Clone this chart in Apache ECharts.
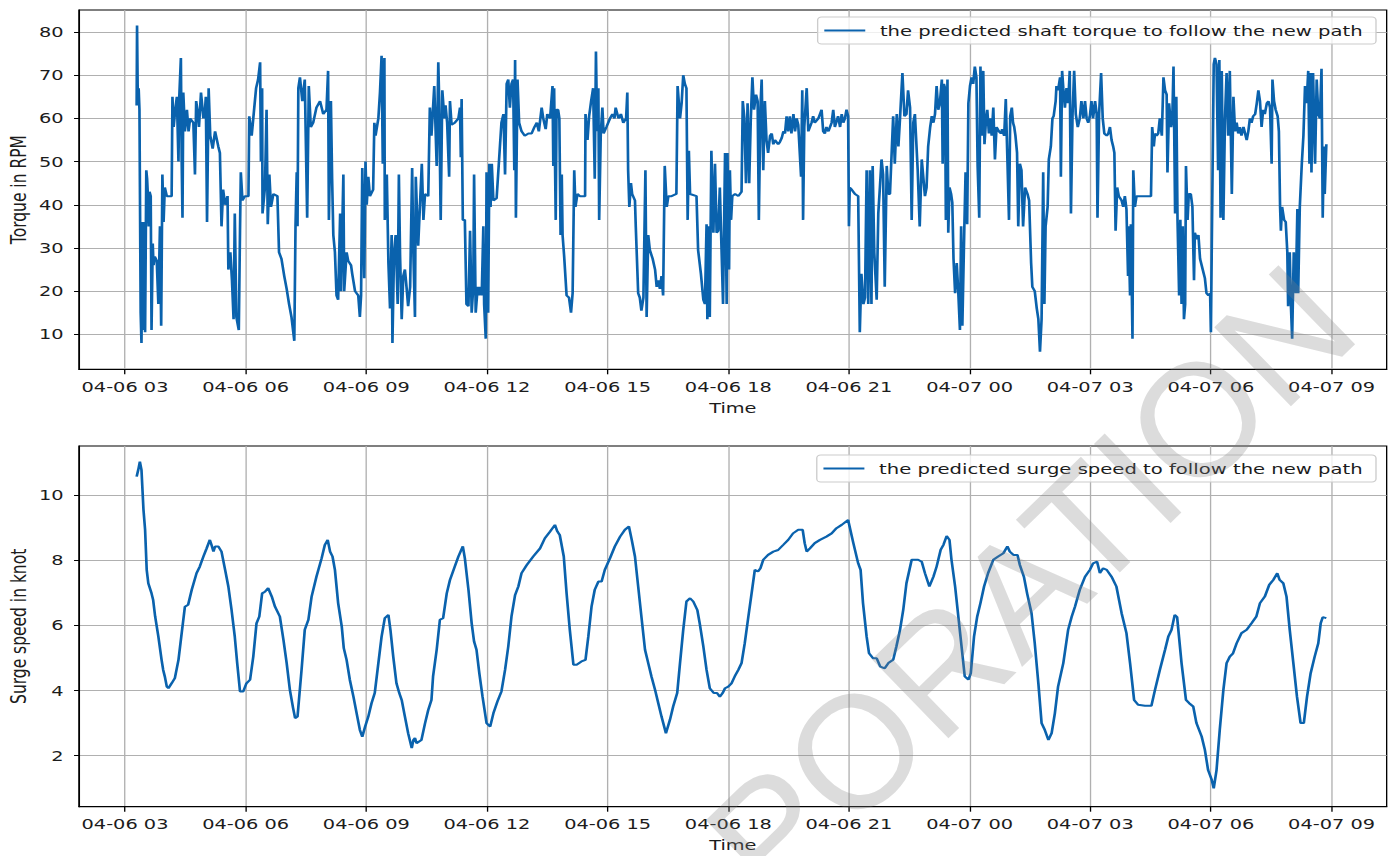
<!DOCTYPE html>
<html>
<head>
<meta charset="utf-8">
<script src="https://cdn.jsdelivr.net/npm/echarts@6/dist/echarts.min.js"></script>
<style>
  html, body { margin: 0; padding: 0; background: #ffffff; overflow: hidden; }
  #wrap { position: relative; width: 1390px; height: 856px; overflow: hidden; background: #ffffff; }
  /* the figure is laid out narrower and widened horizontally, like the original export */
  #chart { position: absolute; left: 0; top: 0; width: 1042px; height: 856px; transform-origin: 0 0; }
  #mark { position: absolute; left: 0; top: 0; width: 1390px; height: 856px; pointer-events: none; }
</style>
</head>
<body>
<div id="wrap"><div id="chart"></div><div id="mark"></div></div>
<script>
// ---- data: time in hours after 04-06 00:00, value ----
const tickHours = [3, 6, 9, 12, 15, 18, 21, 24, 27, 30, 33];
const torqueTicks = [10, 20, 30, 40, 50, 60, 70, 80];
const surgeTicks = [2, 4, 6, 8, 10];

const torque = [
  [3.29,63],[3.30,81.5],[3.32,63],[3.34,67],[3.36,62],[3.39,15],[3.41,8],[3.44,36],[3.46,11],[3.48,36],[3.50,10.5],[3.53,48],[3.55,46],[3.57,42],[3.59,35],[3.61,43],[3.64,42],[3.66,11],[3.69,31],[3.71,26],[3.74,28],[3.79,27],[3.83,17],[3.87,35],[3.90,12],[3.93,47],[3.96,36],[3.99,44],[4.04,42],[4.16,42],[4.18,65],[4.21,58],[4.25,62],[4.29,65],[4.33,50],[4.35,65],[4.39,74],[4.41,50],[4.43,37],[4.45,66],[4.49,57],[4.54,62],[4.58,57],[4.62,60],[4.70,59],[4.74,47],[4.77,64],[4.80,62],[4.84,58],[4.89,66],[4.95,60],[4.99,62],[5.01,65],[5.04,36],[5.08,67],[5.12,56],[5.18,53],[5.24,57],[5.32,53.5],[5.36,52],[5.40,35],[5.44,43.5],[5.49,40],[5.55,42],[5.57,25],[5.62,29],[5.66,22.5],[5.70,13.5],[5.73,38],[5.77,14],[5.83,11],[5.86,34],[5.88,47.5],[5.92,41],[5.98,42],[6.07,42],[6.09,60.5],[6.15,56],[6.19,60],[6.26,67],[6.31,69],[6.36,73],[6.38,50],[6.41,67],[6.42,38],[6.48,44],[6.52,62],[6.55,35.5],[6.59,47],[6.63,39.5],[6.69,42.5],[6.79,42],[6.83,29],[6.89,27.5],[6.96,23.5],[7.02,20.5],[7.08,17],[7.14,14],[7.21,8.5],[7.24,35],[7.27,47.5],[7.29,35],[7.31,67],[7.35,69.5],[7.41,64],[7.47,69],[7.53,37],[7.57,67.5],[7.62,58],[7.68,59],[7.76,62.5],[7.85,64],[7.93,61],[8.01,62],[8.05,71],[8.07,36.5],
  [8.12,64],[8.15,46],[8.18,33],[8.22,29],[8.26,19],[8.30,18],[8.35,38],[8.37,20],[8.43,47],[8.45,20],[8.51,29],[8.55,27],[8.62,26],[8.65,24],[8.72,20],[8.80,19],[8.84,14],[8.87,19],[8.90,48.5],[8.95,23],[8.98,50],[9.01,40],[9.05,46.5],[9.09,42],[9.17,43.5],[9.20,59],[9.23,56],[9.30,60],[9.34,66],[9.38,74.5],[9.41,49.5],[9.45,74],[9.46,36.5],[9.51,47],[9.55,26.5],[9.59,16],[9.63,33],[9.65,8],[9.69,29],[9.73,33],[9.78,17],[9.81,47],[9.84,28],[9.88,13.5],[9.92,23.5],[9.96,25],[10.00,21],[10.04,16.5],[10.09,21],[10.14,48.5],[10.17,29],[10.21,14],[10.23,46.5],[10.29,30.5],[10.38,49.5],[10.42,36.5],[10.46,42.5],[10.54,42],[10.58,62.5],[10.62,56],[10.69,67.5],[10.75,49],[10.79,73],[10.81,65],[10.85,36.5],[10.89,66.5],[10.94,60],[10.97,63],[11.01,59],[11.06,46.5],[11.08,64],[11.12,58.5],[11.20,59],[11.29,60],[11.33,62.5],[11.35,51],[11.37,64.5],[11.40,36.5],[11.45,36.5],[11.49,17],[11.54,16.5],[11.58,34],[11.62,15],[11.66,21],[11.68,47],[11.72,15],[11.77,21],[11.80,19],[11.83,21],[11.87,19],[11.91,35],[11.93,17],[11.97,9],[11.99,47.5],[12.03,15],[12.06,49.5],[12.09,39.5],[12.12,49.5],[12.16,41],[12.24,41.5],[12.36,59],[12.41,61],[12.45,47],[12.49,68],[12.53,69],[12.57,62.5],[12.61,68],[12.65,69],[12.68,48],[12.70,73.5],[12.72,37],[12.76,69],[12.80,59],[12.86,57],[12.94,56],[13.03,56.5],
  [13.11,56.5],[13.18,58],[13.24,59],[13.29,57],[13.36,62.5],[13.40,60],[13.46,57.5],[13.50,61],[13.57,60],[13.63,67.5],[13.65,49],[13.67,67],[13.71,36.5],[13.73,62],[13.77,62],[13.80,60],[13.83,33],[13.86,47],[13.88,33],[13.92,28],[13.98,19],[14.04,18.5],[14.09,15],[14.13,19.5],[14.17,48],[14.20,39.5],[14.25,42.5],[14.31,42],[14.44,42],[14.45,61],[14.50,55],[14.54,60.5],[14.59,64],[14.64,67],[14.68,46],[14.71,75.5],[14.74,57],[14.77,67],[14.79,36.5],[14.83,56.5],[14.87,62.5],[14.90,56.5],[14.97,58],[15.06,60],[15.12,61],[15.17,60],[15.20,62.5],[15.27,60],[15.33,61],[15.39,59],[15.46,60],[15.49,66],[15.51,48],[15.54,39.5],[15.58,45],[15.61,42.5],[15.68,41],[15.70,35],[15.76,19.5],[15.80,18.5],[15.84,15.5],[15.89,18.5],[15.94,48],[15.97,14],[16.01,33],[16.05,29.5],[16.12,27.5],[16.18,25],[16.22,21],[16.26,22.5],[16.30,20.5],[16.34,23.5],[16.38,19],[16.42,49],[16.47,39.5],[16.51,42],[16.59,42],[16.71,42.5],[16.74,67.5],[16.80,60],[16.84,63.5],[16.88,70],[16.92,68],[16.96,67],[16.99,36.5],[17.02,52.5],[17.05,42.5],[17.21,42],[17.25,29.5],[17.32,24],[17.38,18],[17.42,17],[17.46,35.5],[17.48,13.5],[17.50,35],[17.54,14],[17.58,52.5],[17.63,33.5],[17.67,49.5],[17.71,33.5],[17.75,34],[17.79,44],[17.87,17],[17.92,52],[17.96,17],[17.98,52],[18.02,25],[18.04,48],[18.07,36.5],[18.10,42],[18.17,42.5],[18.25,42],[18.33,43],
  [18.36,64],[18.40,60],[18.44,45],[18.48,63.5],[18.52,45],[18.56,60],[18.60,69.5],[18.64,62],[18.69,65.5],[18.73,64],[18.76,36.5],[18.80,62.5],[18.83,69],[18.87,48],[18.91,64],[18.95,55],[18.99,52],[19.04,56],[19.08,56.5],[19.12,54],[19.16,55],[19.24,54],[19.28,54.5],[19.33,55.5],[19.37,57],[19.41,56.5],[19.45,60.5],[19.49,57],[19.53,60.5],[19.57,56.5],[19.62,61],[19.66,57],[19.70,60],[19.74,58.5],[19.81,46.5],[19.84,66.5],[19.86,36.5],[19.89,58],[19.95,67],[19.99,57],[20.07,59],[20.11,60.5],[20.15,59],[20.24,60],[20.32,62],[20.36,57],[20.40,56.5],[20.44,58],[20.49,57],[20.57,59],[20.61,62],[20.65,58],[20.73,60.5],[20.78,58],[20.82,61],[20.86,59],[20.90,60],[20.94,62],[20.98,60.5],[21.00,35],[21.02,44],[21.07,43.5],[21.15,42.5],[21.23,42],[21.27,10.5],[21.31,24],[21.36,17],[21.40,18.5],[21.44,48],[21.48,17],[21.52,48],[21.56,17],[21.59,49],[21.63,29],[21.69,18],[21.73,38],[21.77,44],[21.81,50.5],[21.85,47],[21.89,21],[21.94,49],[21.98,42.5],[22.02,42.5],[22.10,60.5],[22.14,49.5],[22.19,61],[22.23,53.5],[22.27,60],[22.33,70.5],[22.38,60.5],[22.43,61],[22.47,66.5],[22.52,62.5],[22.56,36.5],[22.60,59],[22.64,61],[22.71,48],[22.76,35],[22.81,50.5],[22.89,42],[22.93,44],[22.97,53.5],
  [23.02,58],[23.06,60.5],[23.10,59],[23.14,61],[23.18,67.5],[23.22,62],[23.26,63.5],[23.31,69],[23.33,49.5],[23.36,68],[23.39,67],[23.41,36.5],[23.45,69],[23.47,33.5],[23.50,44],[23.54,42.5],[23.57,40.5],[23.60,27.5],[23.64,19.5],[23.68,26.5],[23.72,19.5],[23.76,11],[23.79,35],[23.82,12],[23.87,35],[23.90,47.5],[23.94,35.5],[23.97,63.5],[24.01,67.5],[24.05,69.5],[24.09,68],[24.13,72],[24.17,69.5],[24.20,49],[24.24,37],[24.27,72],[24.30,56],[24.34,71],[24.37,54],[24.41,60],[24.44,62],[24.48,56.5],[24.51,60],[24.55,56],[24.59,62.5],[24.63,50.5],[24.67,58],[24.73,57],[24.78,56.5],[24.81,57.5],[24.86,56],[24.90,64.5],[24.93,54],[24.98,36.5],[25.01,60.5],[25.05,62.5],[25.08,59],[25.11,58],[25.14,56],[25.18,52],[25.21,35],[25.25,49.5],[25.29,48],[25.33,35],[25.38,44],[25.44,42.5],[25.48,41],[25.53,26.5],[25.56,21],[25.62,20],[25.67,16],[25.71,13.5],[25.75,6],[25.79,13.5],[25.83,47.5],[25.86,17],[25.89,35],[25.94,39.5],[25.97,50.5],[26.02,53.5],[26.06,60],[26.09,60.5],[26.14,64],[26.16,67.5],[26.20,66.5],[26.25,69.5],[26.27,46.5],[26.30,71],[26.33,67],[26.37,62.5],[26.41,67],[26.45,63.5],[26.49,71],[26.52,38],[26.56,61],[26.60,71],[26.64,61],[26.69,58],[26.74,60],[26.78,64],[26.83,60],[26.87,64],[26.91,60],[26.95,59],[26.99,60.5],[27.03,64],[27.07,60],[27.12,64],[27.16,61],[27.18,37],[27.22,61],[27.27,70.5],[27.31,60],[27.35,56.5],[27.41,56],[27.45,56.5],[27.49,58],[27.53,55],[27.57,53.5],[27.60,52],[27.63,34],[27.67,44],[27.71,42],[27.78,41],[27.82,39.5],[27.86,42],[27.90,39],[27.94,23.5],
  [27.95,35],[27.99,19],[28.01,35.5],[28.05,9],[28.07,48],[28.11,39.5],[28.15,42],[28.24,42],[28.36,42],[28.51,42],[28.54,58],[28.58,53.5],[28.61,56.5],[28.65,56],[28.69,56.5],[28.73,60],[28.78,56],[28.82,69.5],[28.86,66.5],[28.90,65.5],[28.92,47.5],[28.96,63.5],[29.01,58],[29.04,60],[29.07,72],[29.11,38],[29.14,65],[29.17,36.5],[29.21,19],[29.24,36.5],[29.27,17],[29.30,35],[29.33,13.5],[29.36,17],[29.38,49],[29.42,36.5],[29.45,42.5],[29.50,42.5],[29.54,39.5],[29.58,22.5],[29.60,33.5],[29.65,32],[29.69,33],[29.73,27.5],[29.77,26],[29.81,24.5],[29.85,23],[29.89,19.5],[29.94,19],[29.98,19.5],[30.00,10.5],[30.03,38],[30.07,72.5],[30.10,74],[30.14,72.5],[30.18,48],[30.21,73.5],[30.24,37],[30.27,71],[30.31,36.5],[30.35,60],[30.39,70.5],[30.43,56],[30.47,71],[30.52,42.5],[30.56,65],[30.60,57],[30.64,59],[30.68,56.5],[30.72,58],[30.76,56],[30.81,58],[30.85,56.5],[30.89,55],[30.93,57],[30.97,60],[31.01,59],[31.05,60.5],[31.10,61],[31.14,63.5],[31.18,66.5],[31.22,64],[31.26,58],[31.30,62],[31.34,61],[31.39,63.5],[31.43,64],[31.47,62.5],[31.51,49.5],[31.53,69],[31.57,64],[31.61,62],[31.66,60.5],[31.69,57],[31.72,39.5],[31.74,34],[31.77,39.5],[31.82,36.5],[31.86,36],[31.90,29],[31.92,16.5],[31.96,29],[31.99,16.5],[32.02,9],[32.06,29],[32.11,19.5],[32.15,39],[32.17,19.5],[32.21,39.5],[32.26,49.5],[32.30,56],[32.34,67.5],[32.38,63.5],[32.42,71],[32.45,49.5],[32.48,70.5],[32.50,47.5],[32.54,70.5],[32.59,49.5],[32.63,69],[32.67,61],[32.71,60],[32.75,71.5],[32.78,37],[32.81,53.5],[32.83,42.5],[32.87,54]
];

const surge = [
  [3.29,10.56],[3.33,10.77],[3.37,11.02],[3.41,10.77],[3.46,9.54],[3.50,8.93],[3.54,7.70],[3.58,7.29],[3.66,6.98],[3.70,6.78],[3.75,6.27],[3.83,5.65],[3.91,4.94],[3.95,4.63],[3.99,4.43],[4.04,4.12],[4.08,4.07],[4.16,4.22],[4.24,4.38],[4.33,4.94],[4.41,5.76],[4.49,6.57],[4.57,6.63],[4.66,7.09],[4.78,7.60],[4.86,7.80],[4.95,8.11],[5.03,8.36],[5.11,8.62],[5.15,8.47],[5.20,8.26],[5.24,8.42],[5.32,8.42],[5.40,8.26],[5.49,7.70],[5.57,7.19],[5.65,6.47],[5.73,5.65],[5.79,4.84],[5.86,3.97],[5.94,3.97],[6.02,4.22],[6.11,4.33],[6.19,5.04],[6.27,6.06],[6.34,6.27],[6.41,6.98],[6.48,7.03],[6.56,7.14],[6.65,6.88],[6.73,6.57],[6.85,6.27],[6.94,5.55],[7.02,4.84],[7.10,4.02],[7.18,3.46],[7.23,3.15],[7.29,3.20],[7.39,4.63],[7.47,5.86],[7.56,6.17],[7.64,6.88],[7.76,7.49],[7.89,8.06],[7.97,8.47],[8.04,8.62],[8.10,8.26],[8.16,8.11],[8.22,7.70],[8.30,6.68],[8.39,5.96],[8.44,5.30],[8.51,4.94],[8.59,4.33],[8.68,3.81],[8.76,3.30],[8.84,2.79],[8.90,2.58],[8.97,2.89],[9.05,3.20],[9.13,3.61],[9.21,3.92],[9.30,4.84],[9.38,5.65],[9.46,6.22],[9.55,6.32],[9.60,5.86],[9.67,5.04],[9.75,4.22],[9.82,3.92],[9.88,3.71],[9.96,3.20],[10.04,2.69],[10.13,2.23],[10.17,2.48],[10.21,2.54],[10.25,2.38],[10.37,2.48],[10.46,2.99],[10.54,3.40],[10.62,3.71],[10.66,4.43],[10.75,5.25],[10.83,6.17],[10.91,6.22],[11.00,6.98],[11.08,7.39],[11.20,7.80],[11.29,8.11],[11.40,8.42],[11.45,8.06],[11.54,7.09],[11.62,6.06],[11.68,5.50],[11.74,5.25],[11.81,4.53],[11.89,3.81],[11.99,3.00],[12.08,2.89],[12.16,3.30],[12.26,3.66],[12.36,3.97],[12.45,4.63],[12.53,5.35],[12.61,6.27],[12.70,6.93],[12.78,7.19],[12.86,7.60],[12.99,7.85],[13.15,8.11],[13.32,8.36],[13.44,8.67],[13.57,8.88],[13.69,9.08],[13.75,8.88],[13.81,8.77],[13.91,8.11],[13.98,6.98],[14.06,5.86],[14.15,4.79],[14.23,4.79],[14.35,4.89],[14.45,4.94],[14.52,5.65],[14.60,6.57],[14.68,7.09],[14.77,7.34],[14.85,7.34],[14.93,7.70],[15.06,8.06],[15.18,8.42],[15.31,8.72],[15.43,8.93],[15.53,9.03],[15.60,8.62],[15.68,8.11],[15.76,7.19],[15.84,6.27],[15.93,5.25],[16.01,4.84],[16.09,4.43],[16.18,4.02],[16.26,3.61],[16.34,3.20],[16.45,2.69],[16.55,3.10],[16.63,3.51],[16.73,3.92],[16.80,4.84],[16.88,5.86],[16.96,6.73],[17.05,6.83],[17.13,6.73],[17.23,6.47],[17.29,6.06],[17.38,5.35],[17.46,4.63],[17.54,4.07],[17.64,3.92],[17.72,3.92],[17.79,3.81],[17.86,3.92],[17.92,4.07],[18.00,4.12],[18.08,4.22],[18.16,4.43],[18.25,4.63],[18.33,4.84],[18.41,5.45],[18.50,6.27],[18.58,6.98],[18.66,7.70],[18.74,7.65],[18.80,7.75],[18.87,8.01],[18.99,8.16],[19.12,8.26],[19.24,8.31],[19.37,8.47],[19.49,8.62],[19.61,8.82],[19.74,8.93],[19.85,8.93],[19.90,8.52],[19.95,8.26],[20.03,8.36],[20.15,8.52],[20.28,8.62],[20.44,8.72],[20.57,8.82],[20.69,8.98],[20.82,9.08],[20.98,9.23],[21.11,8.52],[21.23,7.90],[21.29,7.70],[21.35,6.68],[21.44,5.65],[21.50,5.14],[21.60,4.99],[21.69,4.99],[21.78,4.73],[21.89,4.68],[21.98,4.84],[22.10,4.94],[22.18,5.35],[22.27,5.86],[22.35,6.47],[22.43,7.29],[22.56,8.01],[22.64,8.01],[22.72,8.01],[22.81,7.95],[22.89,7.60],[23.00,7.19],[23.10,7.49],[23.18,7.80],[23.28,8.31],[23.35,8.47],[23.43,8.74],[23.50,8.62],[23.55,8.01],[23.64,7.19],[23.72,6.27],[23.80,5.35],[23.88,4.43],[23.97,4.33],[24.03,4.53],[24.11,5.65],[24.19,6.27],[24.27,6.68],[24.36,7.19],[24.46,7.60],[24.59,8.01],[24.71,8.11],[24.84,8.21],[24.94,8.42],[25.00,8.26],[25.09,8.16],[25.19,8.16],[25.25,7.85],[25.35,7.49],[25.43,6.98],[25.54,6.37],[25.62,5.45],[25.71,4.22],[25.79,3.00],[25.87,2.79],[25.96,2.48],[26.04,2.69],[26.12,3.30],[26.20,4.12],[26.33,4.84],[26.45,5.86],[26.54,6.27],[26.62,6.57],[26.74,7.09],[26.87,7.49],[26.99,7.70],[27.07,7.90],[27.17,7.95],[27.24,7.60],[27.32,7.75],[27.41,7.70],[27.53,7.49],[27.65,7.19],[27.78,6.37],[27.90,5.76],[27.99,4.84],[28.09,3.71],[28.19,3.56],[28.36,3.53],[28.52,3.53],[28.61,4.02],[28.73,4.63],[28.86,5.25],[28.94,5.65],[29.02,5.86],[29.10,6.32],[29.16,6.25],[29.27,4.84],[29.38,3.71],[29.46,3.61],[29.56,3.51],[29.64,3.00],[29.77,2.59],[29.85,2.18],[29.93,1.56],[30.02,1.26],[30.07,1.00],[30.14,1.56],[30.22,2.79],[30.31,4.02],[30.39,4.84],[30.47,5.04],[30.55,5.14],[30.64,5.45],[30.76,5.76],[30.89,5.86],[31.01,6.06],[31.13,6.27],[31.22,6.68],[31.34,6.88],[31.45,7.24],[31.55,7.39],[31.65,7.60],[31.71,7.39],[31.80,7.29],[31.88,6.88],[31.96,5.86],[32.05,4.84],[32.14,3.81],[32.23,3.00],[32.31,3.00],[32.39,3.81],[32.48,4.53],[32.58,5.04],[32.67,5.45],[32.73,6.06],[32.78,6.25],[32.87,6.22]
];

const torqueName = 'the predicted shaft torque to follow the new path';
const surgeName = 'the predicted surge speed to follow the new path';

// ---- helpers ----
// hours after 04-06 00:00 -> "MM-DD HH"
const pad = n => String(n).padStart(2, '0');
const fmtTime = h => {
  const day = 6 + Math.floor(h / 24);
  const hour = Math.round(h - Math.floor(h / 24) * 24);
  return '04-' + pad(day) + ' ' + pad(hour);
};

const WIDTH = 1042;
const STRETCH = 1390 / WIDTH;
document.getElementById('chart').style.transform = 'scaleX(' + STRETCH + ')';

const FONT = 'DejaVu Sans';
const TXT = '#1c1c1c';
const LINE = '#0a62ad';
const GRIDLINE = '#b0b0b0';
const X_MIN = 1.856, X_MAX = 34.37;

function timeAxis(gridIndex) {
  return {
    type: 'value', gridIndex, min: X_MIN, max: X_MAX,
    name: 'Time', nameLocation: 'middle', nameGap: 31,
    nameTextStyle: { fontFamily: FONT, fontSize: 14.5, color: TXT },
    axisLine: { show: true, onZero: false, lineStyle: { color: '#000', width: 1 } },
    axisTick: { show: true, length: 5, inside: false, customValues: tickHours, lineStyle: { color: '#000', width: 1 } },
    axisLabel: { customValues: tickHours, formatter: v => fmtTime(v), fontFamily: FONT, fontSize: 14.5, color: TXT, margin: 10, hideOverlap: false },
    splitLine: { show: true, lineStyle: { color: GRIDLINE, width: 1 } }
  };
}

function valueAxis(gridIndex, min, max, ticks, name) {
  return {
    type: 'value', gridIndex, min, max,
    name, nameLocation: 'middle', nameRotate: 90, nameGap: 37, nameMoveOverlap: false,
    nameTextStyle: { fontFamily: FONT, fontSize: 15.5, color: TXT },
    axisLine: { show: true, onZero: false, lineStyle: { color: '#000', width: 1 } },
    axisTick: { show: true, length: 3.7, customValues: ticks, lineStyle: { color: '#000', width: 1 } },
    axisLabel: { customValues: ticks, formatter: v => String(v), fontFamily: FONT, fontSize: 14.5, color: TXT, margin: 11.5 },
    splitLine: { show: true, lineStyle: { color: GRIDLINE, width: 1 } }
  };
}

function legendBox(name, top) {
  return {
    data: [name], right: 10.5, top, orient: 'horizontal', selectedMode: false,
    icon: 'rect', itemWidth: 30.7, itemHeight: 2,
    padding: [6, 10, 6, 5],
    backgroundColor: 'rgba(255,255,255,0.8)', borderColor: '#cccccc', borderWidth: 1, borderRadius: 3,
    textStyle: { fontFamily: FONT, fontSize: 14.7, color: TXT, padding: [0, 0, 0, 6] }
  };
}

const chart = echarts.init(document.getElementById('chart'), null, { renderer: 'svg' });
chart.setOption({
  animation: false,
  color: [LINE, LINE],
  grid: [
    { left: 59.2, right: 2.5, top: 10, height: 359.3, show: true, borderColor: '#000', borderWidth: 1, backgroundColor: 'transparent', containLabel: false, outerBoundsMode: 'none' },
    { left: 59.2, right: 2.5, top: 446, height: 360.7, show: true, borderColor: '#000', borderWidth: 1, backgroundColor: 'transparent', containLabel: false, outerBoundsMode: 'none' }
  ],
  legend: [legendBox(torqueName, 17), legendBox(surgeName, 455)],
  xAxis: [timeAxis(0), timeAxis(1)],
  yAxis: [
    valueAxis(0, 1.9, 85.1, torqueTicks, 'Torque in RPM'),
    valueAxis(1, 0.435, 11.5, surgeTicks, 'Surge speed in knot')
  ],
  series: [
    { type: 'line', name: torqueName, xAxisIndex: 0, yAxisIndex: 0, data: torque,
      showSymbol: false, symbol: 'none', lineStyle: { width: 2, color: LINE }, itemStyle: { color: LINE } },
    { type: 'line', name: surgeName, xAxisIndex: 1, yAxisIndex: 1, data: surge,
      showSymbol: false, symbol: 'none', lineStyle: { width: 2, color: LINE }, itemStyle: { color: LINE } }
  ]
});

// diagonal watermark across the lower right of the figure
const mark = echarts.init(document.getElementById('mark'), null, { renderer: 'svg' });
mark.setOption({
  graphic: {
    elements: [{
      type: 'text', x: 1030, y: 582, rotation: 0.77, silent: true,
      style: { text: 'PORATION', fontFamily: 'Liberation Sans', fontSize: 160, fill: 'rgba(130,130,130,0.28)', align: 'center', verticalAlign: 'middle' }
    }]
  }
});
</script>
</body>
</html>
